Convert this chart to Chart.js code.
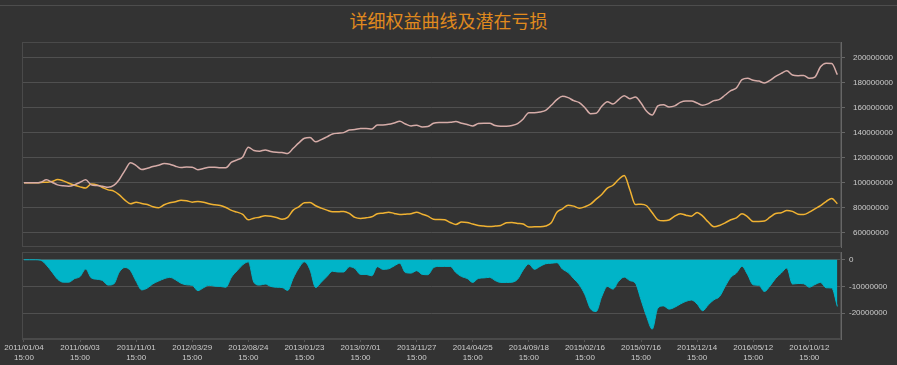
<!DOCTYPE html>
<html lang="zh">
<head>
<meta charset="UTF-8">
<title>详细权益曲线及潜在亏损</title>
<script src="https://cdn.jsdelivr.net/npm/chart.js"></script>
<style>
    body {
        margin: 0;
        width: 897px;
        height: 365px;
        overflow: hidden;
        position: relative;
        background-color: #333333;
        font-family: "Liberation Sans", Arial, sans-serif;
    }
    .topline {
        position: absolute;
        left: 0;
        top: 5px;
        width: 897px;
        height: 1px;
        background-color: #4d4d4d;
    }
    .title {
        position: absolute;
        left: 0;
        top: 7px;
        width: 897px;
        text-align: center;
        color: #e08a1e;
        font-size: 18px;
        font-family: "Noto Sans CJK SC", sans-serif;
    }
    #topBox {
        position: absolute;
        left: 0;
        top: 0;
        width: 897px;
        height: 250px;
    }
    #bottomBox {
        position: absolute;
        left: 0;
        top: 250px;
        width: 897px;
        height: 115px;
    }
</style>
</head>
<body>
<div class="topline"></div>
<div class="title">详细权益曲线及潜在亏损</div>
<div id="topBox"><canvas id="equityChart"></canvas></div>
<div id="bottomBox"><canvas id="lossChart"></canvas></div>

<script>
// trading-day index of every sample (one sample each 10 days), label every 100 days
const step = 10;
const tickIndex = [0, 100, 200, 300, 400, 500, 600, 700, 800, 900, 1000, 1100, 1200, 1300, 1400];
const dateLabels = ['2011/01/04', '2011/06/03', '2011/11/01', '2012/03/29', '2012/08/24',
    '2013/01/23', '2013/07/01', '2013/11/27', '2014/04/25', '2014/09/18',
    '2015/02/16', '2015/07/16', '2015/12/14', '2016/05/12', '2016/10/12'];
const timeLabel = '15:00';

// values in millions
const equity = [
    100, 100, 100, 100.5, 102.4, 100.5, 98.4, 97.6, 97.3, 98.4,
    100.5, 102.4, 98.4, 97.9, 97.3, 96.5, 97.9, 102.7, 110, 116,
    113.8, 110.6, 111.7, 113, 114, 115.4, 114.9, 113.3, 112.2, 112.7,
    112.5, 110.4, 111.4, 112.5, 112.5, 112, 112, 116.5, 118.3, 120.7,
    128.4, 125.8, 125.2, 126.3, 125, 124.4, 124.2, 123.4, 127.6, 131.9,
    135.6, 136.1, 132.7, 134.5, 136.7, 139, 139.6, 140.1, 142.2, 142.5,
    143.3, 143.3, 143, 146.2, 146.2, 146.7, 147.8, 149.1, 147, 145.4,
    146, 144.6, 144.9, 147.5, 148.1, 148.1, 148.3, 148.9, 147.5, 146.5,
    145.4, 147.3, 147.5, 147.5, 145.7, 145.2, 145.2, 145.7, 147.3, 151,
    156, 156, 156.6, 157.9, 161.9, 166.4, 169.1, 168, 165.6, 164,
    160, 155.2, 155.5, 161.1, 164.8, 162.9, 166.4, 169.6, 167.2, 168.5,
    163.7, 157.1, 154.2, 161.4, 162.4, 160.6, 161.4, 164.2, 165.3, 165.3,
    163.7, 161.9, 163.2, 165.6, 166.6, 170.1, 173.6, 175.7, 182.3, 183.4,
    181.8, 181.2, 179.6, 181.8, 185, 187.3, 189.4, 186, 185.5, 185.7,
    183.4, 184.4, 192.6, 195.5, 195.3, 186.3
];
const benchmark = [
    100, 100, 100, 100.3, 100.5, 101, 102.7, 101.6, 99.7, 98.1,
    96.8, 95.8, 99, 98.4, 96.3, 94.4, 93.4, 90.4, 86.2, 83.3,
    84.6, 83.5, 82.7, 80.9, 80.1, 82.5, 84.1, 84.9, 86.2, 85.7,
    84.6, 85.1, 84.6, 83.3, 82.5, 81.9, 80.3, 78, 76.6, 74.8,
    70.5, 71.8, 72.6, 73.7, 73.4, 72.4, 71, 72.4, 78.2, 80.9,
    84.1, 84.3, 81.7, 79.8, 78.2, 76.9, 76.9, 77.2, 75.6, 72.4,
    71.6, 72.1, 72.9, 75.3, 75.8, 76.6, 75.6, 74.8, 75, 75.3,
    76.6, 75, 73.4, 71, 70.8, 70.5, 68.4, 66.8, 68.7, 68.4,
    67.1, 66, 65.5, 65.2, 65.5, 66, 68.1, 68.4, 67.6, 67.1,
    64.7, 64.9, 64.9, 65.5, 68.1, 76.6, 79.3, 82.2, 81.4, 79.8,
    80.9, 83, 87, 90.7, 95.8, 98.1, 102.7, 105.8, 94.7, 82.7,
    83, 81.7, 76.1, 70.5, 69.7, 70.3, 73.4, 75.3, 74.2, 73.4,
    76.4, 73.4, 68.7, 64.9, 66, 68.1, 70.5, 72.1, 75.3, 72.9,
    69.2, 69.2, 69.5, 72.6, 75.6, 76.1, 78, 77.2, 75, 74.8,
    76.6, 79.3, 81.9, 85.1, 87.5, 83.3
];
const drawdown = [
    0, 0, 0, -0.2, -2, -4.6, -7.3, -8.4, -8.4, -7.1,
    -6.3, -3.5, -6.8, -7.3, -7.8, -9.5, -9.1, -4.6, -2.9, -4.1,
    -8.1, -11.3, -10.6, -9, -8, -7.1, -6.6, -7.5, -8.8, -9.4,
    -9.6, -11.6, -10.5, -9.6, -9.9, -10, -10.3, -6.5, -4.1, -1.9,
    -0.8, -8.5, -9.5, -9.1, -10, -10.3, -10.4, -11.5, -6.9, -3.1,
    -0.8, -3.8, -10.4, -8.4, -6.3, -4.3, -4.6, -4.6, -2.6, -3.3,
    -5.5, -5.5, -6, -2.6, -3.6, -3.4, -2.3, -1.3, -4.8, -5,
    -4.1, -5.5, -5.6, -3, -2.5, -2.5, -2.5, -4.8, -6.3, -7,
    -8.5, -7, -6.8, -6.6, -7.8, -8.5, -8.5, -8.4, -7.3, -3.8,
    -1.6, -3.6, -2.5, -1.5, -1.3, -1.1, -3.5, -4.8, -7.1, -9.4,
    -13.1, -18.4, -19.4, -13.8, -10, -11, -8.1, -6.5, -7.8, -8.8,
    -15, -21.3, -26, -18.1, -17.3, -18.5, -17.8, -16.6, -15.6, -15.1,
    -16.6, -19.1, -16.9, -15, -13.8, -10, -6.6, -5, -2.5, -5.6,
    -9.4, -9.6, -11.9, -9.8, -7, -5, -3.1, -9.1, -8.9, -9,
    -10.3, -9.3, -8.5, -10.5, -10.6, -17.5
];

const equityTicks = [60, 80, 100, 120, 140, 160, 180, 200];
const drawdownTicks = [-20, -10, 0];

function toPoints(arr) {
    return arr.map((v, i) => ({ x: i * step, y: v * 1000000 }));
}

// frame round each plot area
const framePlugin = {
    id: 'frame',
    beforeDatasetsDraw(chart) {
        const a = chart.chartArea;
        const ctx = chart.ctx;
        ctx.save();
        ctx.strokeStyle = '#4a4a4a';
        ctx.lineWidth = 1;
        ctx.strokeRect(a.left + 0.5, a.top + 0.5, a.right - a.left - 1, a.bottom - a.top - 1);
        ctx.restore();
    }
};

// no extra room for the end labels, the layout padding decides
function fitY(s) {
    s.width = 56;
    s.paddingTop = 0;
    s.paddingBottom = 0;
}

const xRange = { min: -3.5, max: 1456.5 };
const tickFont = { family: '"Liberation Sans", Arial, sans-serif', size: 8 };

new Chart(document.getElementById('equityChart'), {
    type: 'line',
    data: {
        datasets: [{
            data: toPoints(equity),
            borderColor: '#d6aca8',
            borderWidth: 1.5,
            pointRadius: 0,
            cubicInterpolationMode: 'monotone'
        }, {
            data: toPoints(benchmark),
            borderColor: '#f0b232',
            borderWidth: 1.5,
            pointRadius: 0,
            cubicInterpolationMode: 'monotone'
        }]
    },
    options: {
        responsive: true,
        maintainAspectRatio: false,
        animation: false,
        devicePixelRatio: 1,
        layout: { padding: { left: 22, right: 0, top: 42, bottom: 3 } },
        plugins: { legend: { display: false }, tooltip: { enabled: false } },
        scales: {
            x: { type: 'linear', min: xRange.min, max: xRange.max, display: false },
            y: {
                position: 'right',
                min: 48800000,
                max: 212400000,
                afterFit: fitY,
                afterBuildTicks(s) { s.ticks = equityTicks.map(v => ({ value: v * 1000000 })); },
                grid: { color: '#505050', tickLength: 4, tickColor: '#666' },
                border: { color: '#666' },
                ticks: {
                    color: '#cccccc',
                    font: tickFont,
                    padding: 8,
                    callback: v => String(v)
                }
            }
        }
    },
    plugins: [framePlugin]
});

new Chart(document.getElementById('lossChart'), {
    type: 'line',
    data: {
        datasets: [{
            data: toPoints(drawdown),
            borderColor: '#00b4c8',
            backgroundColor: '#00b4c8',
            borderWidth: 1,
            pointRadius: 0,
            fill: 'origin',
            cubicInterpolationMode: 'monotone'
        }]
    },
    options: {
        responsive: true,
        maintainAspectRatio: false,
        animation: false,
        devicePixelRatio: 1,
        layout: { padding: { left: 22, right: 0, top: 2, bottom: 0 } },
        plugins: { legend: { display: false }, tooltip: { enabled: false } },
        scales: {
            x: {
                type: 'linear',
                min: xRange.min,
                max: xRange.max,
                afterFit(s) { s.height = 26; s.paddingLeft = 0; s.paddingRight = 0; },
                afterBuildTicks(s) { s.ticks = tickIndex.map(v => ({ value: v })); },
                grid: { drawOnChartArea: false, tickLength: 3, color: '#555' },
                border: { color: '#4a4a4a' },
                ticks: {
                    color: '#cccccc',
                    font: tickFont,
                    padding: 1,
                    maxRotation: 0,
                    autoSkip: false,
                    callback: (v, i) => [dateLabels[i], timeLabel]
                }
            },
            y: {
                position: 'right',
                min: -29700000,
                max: 2900000,
                afterFit: fitY,
                afterBuildTicks(s) { s.ticks = drawdownTicks.map(v => ({ value: v * 1000000 })); },
                grid: { color: '#505050', tickLength: 4, tickColor: '#666' },
                border: { color: '#666' },
                ticks: {
                    color: '#cccccc',
                    font: tickFont,
                    padding: 4,
                    callback: v => String(v)
                }
            }
        }
    },
    plugins: [framePlugin]
});
</script>
</body>
</html>
